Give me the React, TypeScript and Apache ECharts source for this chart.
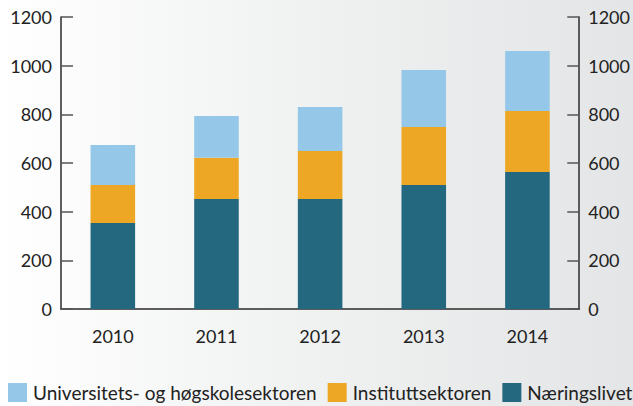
import React, { useEffect, useRef } from "react";
import * as echarts from "echarts";

const years = ["2010", "2011", "2012", "2013", "2014"];
const naeringslivet = [353, 452, 452, 510, 563];
const instituttsektoren = [157, 170, 197, 238, 251];
const universitet = [164, 171, 181, 234, 246];
const yTicks = { min: 0, max: 1200, interval: 200 };

const FONT = "Lato";

export default function App() {
  const ref = useRef<HTMLDivElement>(null);
  useEffect(() => {
    document.body.style.margin = "0";
    const chart = echarts.init(ref.current!, null, { renderer: "svg" });
    const yAxisCommon = {
      type: "value" as const,
      min: yTicks.min,
      max: yTicks.max,
      interval: yTicks.interval,
      splitLine: { show: false },
      axisLine: { show: true, lineStyle: { color: "#2b2b2b", width: 1.5 } },
      axisTick: { show: true, inside: true, length: 12, lineStyle: { color: "#555", width: 1.5 } },
      axisLabel: {
        color: "#222",
        fontFamily: FONT,
        fontSize: 18,
        margin: 9,
        padding: [8, 0, 0, 0],
        formatter: (v: number) => String(v),
      },
    };
    chart.setOption({
      animation: false,
      grid: { left: 61, right: 49, top: 17, bottom: 97, containLabel: false },
      legend: {
        left: 8,
        top: 383,
        width: 700,
        padding: 0,
        itemWidth: 19,
        itemHeight: 19,
        itemGap: 11,
        icon: "rect",
        data: ["Universitets- og høgskolesektoren", "Instituttsektoren", "Næringslivet"],
        textStyle: { color: "#222", fontFamily: FONT, fontSize: 19, padding: [6, 0, 0, 1] },
      },
      xAxis: {
        type: "category",
        data: years,
        axisLine: { show: true, lineStyle: { color: "#2b2b2b", width: 1.5 } },
        axisTick: { show: false },
        axisLabel: { color: "#222", fontFamily: FONT, fontSize: 18, margin: 18 },
      },
      yAxis: [
        { ...yAxisCommon, position: "left" },
        { ...yAxisCommon, position: "right" },
      ],
      series: [
        {
          name: "Næringslivet",
          type: "bar",
          stack: "total",
          data: naeringslivet,
          barWidth: "43%",
          itemStyle: { color: "#24687f" },
        },
        {
          name: "Instituttsektoren",
          type: "bar",
          stack: "total",
          data: instituttsektoren,
          barWidth: "43%",
          itemStyle: { color: "#eea724" },
        },
        {
          name: "Universitets- og høgskolesektoren",
          type: "bar",
          stack: "total",
          data: universitet,
          barWidth: "43%",
          itemStyle: { color: "#95c8e8" },
        },
      ],
    });
    return () => chart.dispose();
  }, []);
  return (
    <div
      style={{
        width: 633,
        height: 406,
        background: "linear-gradient(to right, #ffffff 0%, #f1f2f2 45%, #e3e5e6 100%)",
      }}
    >
      <div ref={ref} style={{ width: 633, height: 406 }} />
    </div>
  );
}
